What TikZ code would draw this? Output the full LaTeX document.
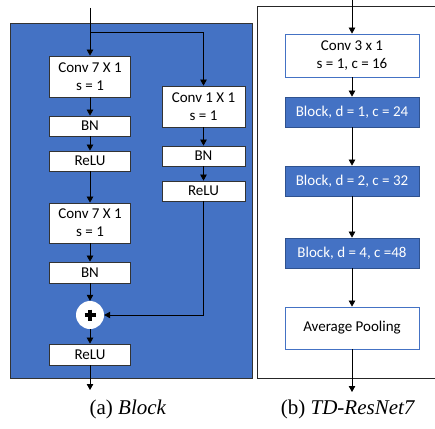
\documentclass[tikz,border=0pt]{standalone}
\usepackage{fontspec}
\setmainfont{Carlito}
\newfontfamily\capfont{Liberation Serif}
\usetikzlibrary{arrows.meta}
\definecolor{oblue}{HTML}{4472C4}
\definecolor{dblue}{HTML}{2F528F}
\begin{document}
\begin{tikzpicture}[x=1pt,y=-1pt,
  box/.style={draw=black!80, fill=white, line width=0.8pt, align=center, inner sep=0pt,
    font=\fontsize{15}{18}\selectfont, text=black},
  lbox/.style={box, minimum width=81pt},
  rbox/.style={box, minimum width=83pt},
  tbox/.style={box, draw=oblue, minimum width=134pt},
  bbox/.style={box, draw=dblue, fill=oblue, text=white, minimum width=134pt, minimum height=30pt},
  arr/.style={-{Triangle[length=6pt,width=6.5pt]}, line width=0.75pt},
  ln/.style={line width=0.75pt},
  captext/.style={font=\capfont\fontsize{21}{24}\selectfont}]
\useasboundingbox (0,0) rectangle (435,428);
% left panel
\fill[oblue] (10,23) rectangle (252,378);
\draw[black!80, line width=0.9pt] (10,23) rectangle (252,378);
% right panel
\draw[black!85, line width=0.9pt] (257,378) -- (257,6) -- (445,6);
\draw[black!85, line width=0.9pt] (257,378) -- (445,378);
% left column
\node[lbox, minimum height=41pt] (c1) at (90,76.5) {Conv 7 X 1\\s = 1};
\node[lbox, minimum height=20pt] (bn1) at (90,126) {BN};
\node[lbox, minimum height=20pt] (r1) at (90,161) {ReLU};
\node[lbox, minimum height=40pt] (c2) at (90,223) {Conv 7 X 1\\s = 1};
\node[lbox, minimum height=21pt] (bn2) at (90,272.5) {BN};
\node[circle, fill=white, minimum size=28pt, inner sep=0pt] (plus) at (90,315) {};
\draw[line width=3.2pt, black] (plus.center) ++(-5.5,0) -- ++(11,0);
\draw[line width=3.2pt, black] (plus.center) ++(0,-5.5) -- ++(0,11);
\node[lbox, minimum height=21pt] (r3) at (90,354.5) {ReLU};
% right column
\node[rbox, minimum height=41pt] (c3) at (203.5,106.5) {Conv 1 X 1\\s = 1};
\node[rbox, minimum height=20pt] (bn3) at (203.5,156) {BN};
\node[rbox, minimum height=20pt] (r2) at (203.5,191) {ReLU};
\coordinate (in) at (90,8);
\coordinate (br) at (90,32);
\coordinate (out) at (90,390);
\draw[ln] (in) -- (br);
\draw[arr] (br) -- (c1);
\draw[arr] (br) -| (c3);
\draw[arr] (c1) -- (bn1);
\draw[arr] (bn1) -- (r1);
\draw[arr] (r1) -- (c2);
\draw[arr] (c2) -- (bn2);
\draw[arr] (bn2) -- (plus);
\draw[arr] (plus) -- (r3);
\draw[arr] (r3) -- (out);
\draw[arr] (c3) -- (bn3);
\draw[arr] (bn3) -- (r2);
\draw[arr] (r2) |- (plus);
% TD-ResNet7
\node[tbox, minimum height=43pt] (k0) at (352,55.5) {Conv 3 x 1\\s = 1, c = 16};
\node[bbox] (b1) at (352,112) {Block, d = 1, c = 24};
\node[bbox] (b2) at (352,181) {Block, d = 2, c = 32};
\node[bbox] (b3) at (352,253) {Block, d = 4, c =48};
\node[tbox, minimum height=42pt] (ap) at (352,328) {Average Pooling};
\coordinate (in2) at (352,0);
\coordinate (out2) at (352,392);
\draw[arr] (in2) -- (k0);
\draw[arr] (k0) -- (b1);
\draw[arr] (b1) -- (b2);
\draw[arr] (b2) -- (b3);
\draw[arr] (b3) -- (ap);
\draw[arr] (ap) -- (out2);
% captions
\node[captext] (capa) at (128,409) {(a) \textit{Block}};
\node[captext] (capb) at (348,409) {(b) \textit{TD-ResNet7}};
\end{tikzpicture}
\end{document}
